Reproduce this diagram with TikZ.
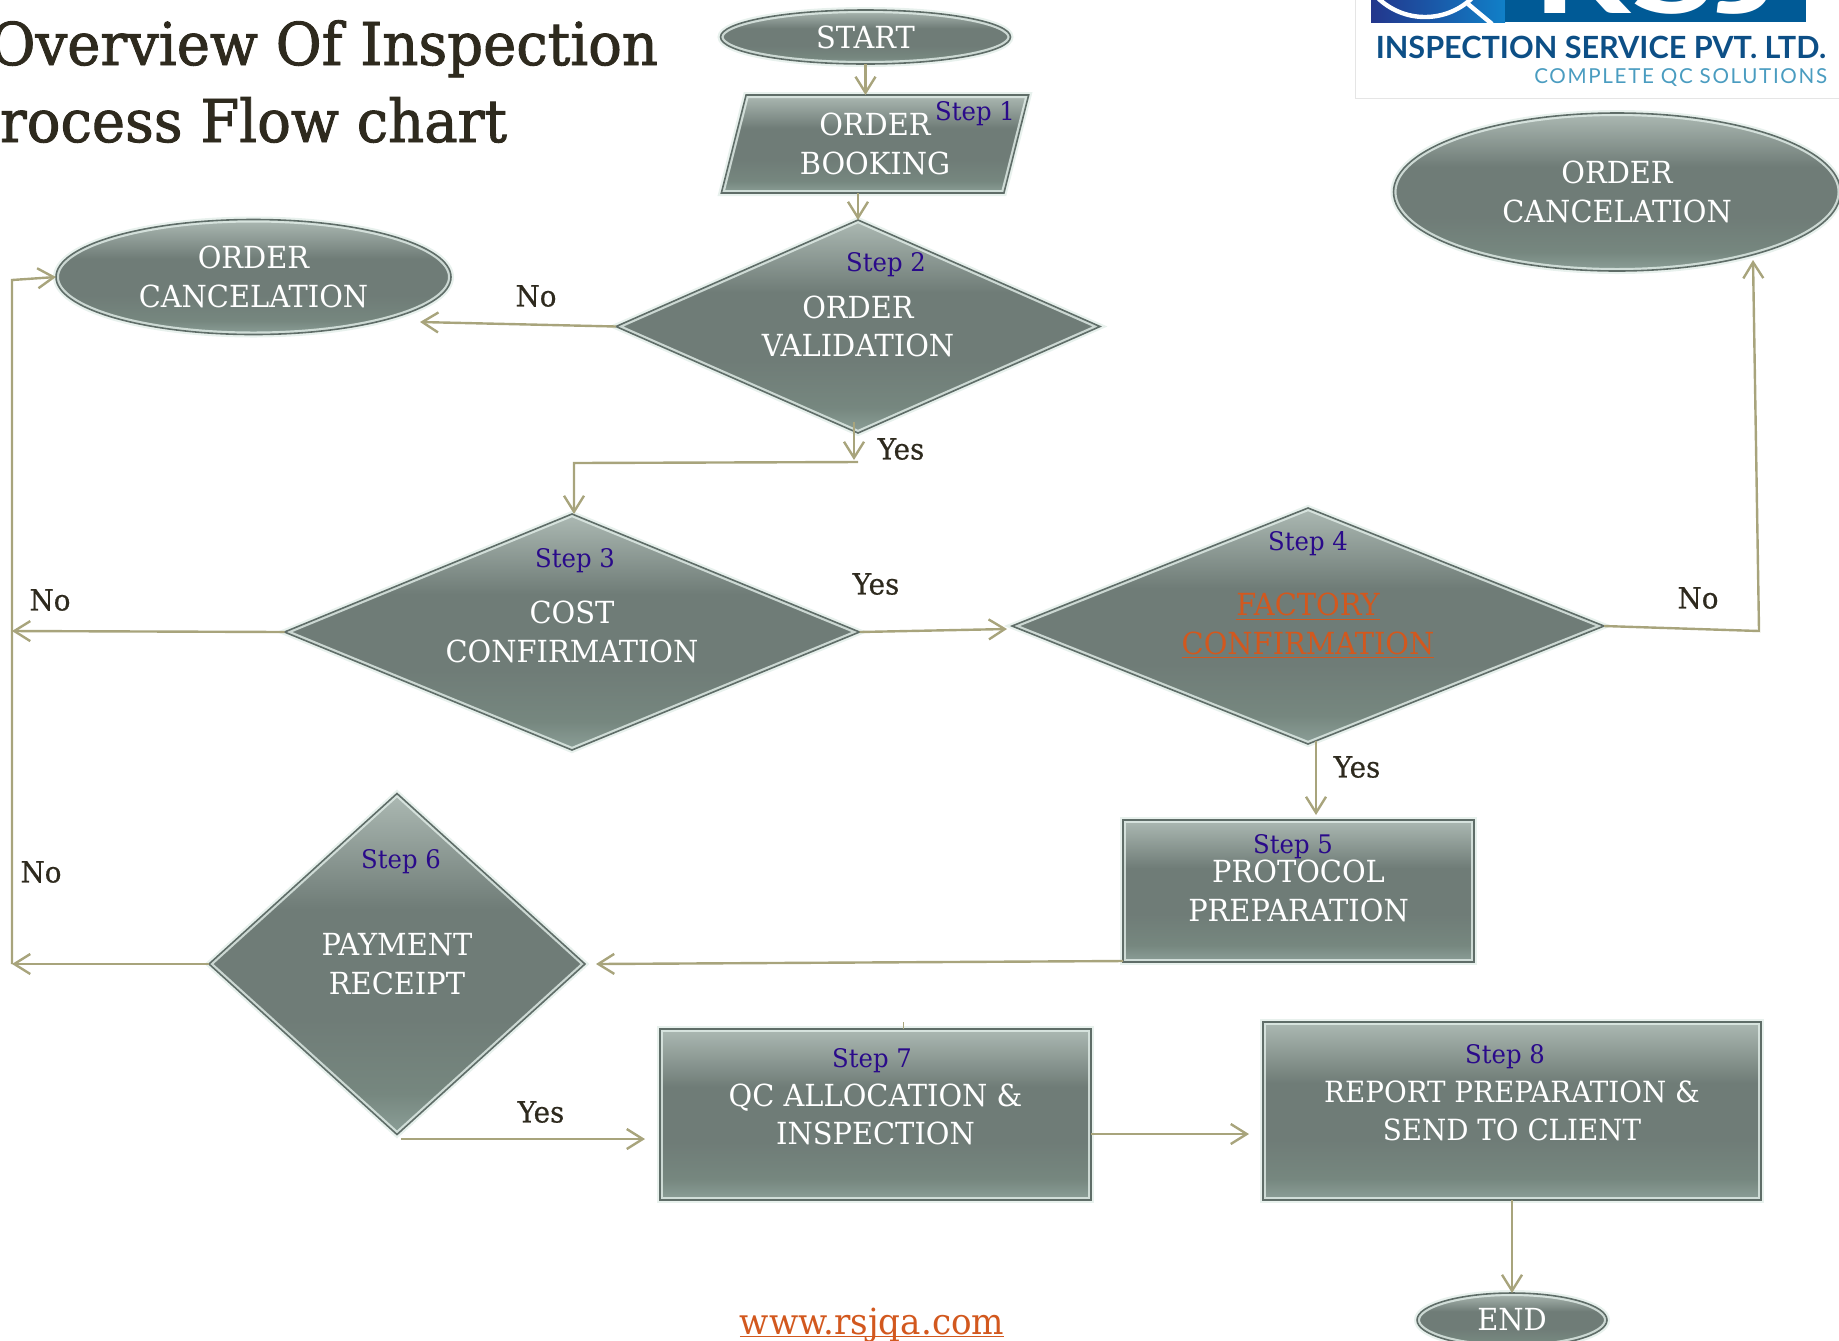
\documentclass[tikz,border=0pt]{standalone}
\usepackage{fontspec}
\usetikzlibrary{shapes.geometric,arrows.meta}
\newfontfamily\slab[FakeStretch=0.95]{DejaVu Serif}
\newfontfamily\slabheavy[FakeStretch=0.95,FakeBold=1.5]{DejaVu Serif}
\newfontfamily\slabmid[FakeStretch=0.95,FakeBold=0.6]{DejaVu Serif}
\newfontfamily\logofont{Lato}
\newfontfamily\rsjfont[FakeStretch=1.4]{Lato}
\setmainfont{DejaVu Serif}
\definecolor{linec}{HTML}{A8A47C}
\definecolor{stepc}{HTML}{2A0A8A}
\definecolor{inkc}{HTML}{2E2A1E}
\definecolor{linkc}{HTML}{D2581E}
\definecolor{edgec}{HTML}{5F6D68}
\definecolor{bevelc}{HTML}{E2EEE9}
\definecolor{logoa}{HTML}{0D4F86}
\definecolor{logob}{HTML}{4A9CC0}
\definecolor{logoc}{HTML}{005A96}
\definecolor{logod}{HTML}{23368C}
\definecolor{logoe}{HTML}{1080C8}
\definecolor{shadea}{HTML}{8C9F98}
\definecolor{shadeb}{HTML}{76877F}
\definecolor{shadec}{HTML}{6F7C77}
\definecolor{shaded}{HTML}{ACB9B3}
\pgfdeclareverticalshading{bevelshade}{100bp}{
  color(0bp)=(shadea);
  color(25bp)=(shadea);
  color(31bp)=(shadeb);
  color(42bp)=(shadec);
  color(58bp)=(shadec);
  color(75bp)=(shaded);
  color(100bp)=(shaded)}
\tikzset{
  x=0.5pt,y=-0.5pt,
  every node/.style={inner sep=0pt,outer sep=0pt},
  dims/.style 2 args={minimum width=#1*0.5pt,minimum height=#2*0.5pt},
  glass/.style={shade,shading=bevelshade,
    postaction={draw=bevelc,line width=3pt,opacity=.8},
    postaction={draw=edgec,line width=.8pt},
    text=white,align=center,font=\slab\fontsize{15.2}{19.3}\selectfont},
  rectbox/.style={glass,rectangle},
  oval/.style={glass,ellipse},
  rhomb/.style={glass,diamond},
  slant/.style={glass,trapezium,trapezium left angle=76.8,trapezium right angle=103.2,trapezium stretches=true},
  flow/.style={draw=linec,line width=1.2pt},
  arr/.style={flow,-{Straight Barb[length=8pt,width=10pt]}},
  steplabel/.style={text=stepc,font=\slab\fontsize{12.8}{15}\selectfont},
  yesno/.style={text=inkc,font=\slabmid\fontsize{14.6}{16}\selectfont},
  titletext/.style={text=inkc,anchor=base east,font=\slabheavy\fontsize{29.5}{36}\selectfont},
}
\begin{document}
\begin{tikzpicture}
\useasboundingbox (0,0) rectangle (1839,1340);
% logo
\draw[draw=black!10,line width=.5pt] (1355,0) -- (1355,98) -- (1839,98);
\fill[left color=logod,right color=logoe] (1371,0) rectangle (1505,22);
\fill[logoc] (1505,0) -- (1806,0) -- (1806,22) -- (1505,22) -- cycle;
\begin{scope}
\clip (1371,0) rectangle (1806,22);
\draw[white,line width=2.2pt] (1425,-51) circle[radius=68];
\draw[white,line width=2.2pt] (1468,4) -- (1492,24);
\node[anchor=base,text=white,font=\rsjfont\bfseries\fontsize{55}{60}\selectfont] (logorsj) at (1657,13) {RSJ};
\end{scope}
\node[anchor=base east,text=logoa,font=\logofont\bfseries\fontsize{15.3}{17}\selectfont] (logotext) at (1826,58) {INSPECTION SERVICE PVT. LTD.};
\node[anchor=base east,text=logob,font=\logofont\fontsize{10.3}{12}\selectfont] (logosub) at (1827,83) {\addfontfeature{LetterSpace=8}COMPLETE QC SOLUTIONS};
% title
\node[titletext] (title1) at (658,65) {Overview Of Inspection};
\node[titletext] (title2) at (507,142) {Process Flow chart};
% shapes
\node[oval,dims={290}{54}] (start) at (865.5,37) {START};
\node[slant,dims={309}{98},align=center] (book) at (875,144) {ORDER\\BOOKING};
\node[rhomb,shape aspect=2.3,dims={484}{213}] (d2) at (858,326.5) {ORDER\\VALIDATION};
\node[oval,dims={395}{115}] (can1) at (253.5,277) {ORDER\\CANCELATION};
\node[oval,dims={447}{158}] (can2) at (1617,192) {ORDER\\CANCELATION};
\node[rhomb,shape aspect=2.4,dims={575}{236}] (d3) at (572,632) {COST\\CONFIRMATION};
\node[rhomb,shape aspect=2.4,dims={592}{236},text=linkc] (d4) at (1308,626) {\underline{FACTORY}\\\underline{CONFIRMATION}};
\node[rectbox,dims={351}{142}] (box5) at (1298.5,891) {PROTOCOL\\PREPARATION};
\node[rhomb,shape aspect=1.1,dims={376}{341}] (d6) at (397,964) {PAYMENT\\RECEIPT};
\node[rectbox,dims={431}{171}] (box7) at (875.5,1114.5) {QC ALLOCATION \&\\INSPECTION};
\node[rectbox,dims={498}{178},font=\slab\fontsize{14.6}{19.3}\selectfont] (box8) at (1512,1111) {REPORT PREPARATION \&\\SEND TO CLIENT};
\node[oval,dims={190}{54}] (endn) at (1512,1320) {END};
% step labels
\node[steplabel] (s1) at (975,114) {Step 1};
\node[steplabel] (s2) at (886,265) {Step 2};
\node[steplabel] (s3) at (575,561) {Step 3};
\node[steplabel] (s4) at (1308,544) {Step 4};
\node[steplabel] (s5) at (1293,847) {Step 5};
\node[steplabel] (s6) at (401,862) {Step 6};
\node[steplabel] (s7) at (872,1061) {Step 7};
\node[steplabel] (s8) at (1505,1057) {Step 8};
% free ends
\coordinate (c1tip) at (420,322);
\coordinate (y2a) at (854,422);
\coordinate (y2b) at (854,460);
\coordinate (y2c) at (858,462);
\coordinate (y2d) at (574,463);
\coordinate (leftmid) at (12,631);
\coordinate (leftlow) at (12,964);
\coordinate (lefttop) at (12,280);
\coordinate (d4tip) at (1007,629);
\coordinate (d4k) at (1759,631);
\coordinate (can2tip) at (1753,260);
\coordinate (d4s) at (1316,741);
\coordinate (d4y) at (1316,815);
\coordinate (b5a) at (1123,961);
\coordinate (d6tip) at (596,964);
\coordinate (d6y) at (401,1139);
\coordinate (b7tip) at (645,1139);
\coordinate (b7o) at (1091,1134);
\coordinate (b8tip) at (1249,1134);
\coordinate (tick) at (903,1022);
% connectors
\draw[arr] (start.south) -- (start.south |- book.north);
\draw[arr] (d2.north |- book.south) -- (d2.north);
\draw[arr] (d2.west) -- (c1tip);
\draw[arr] (y2a) -- (y2b);
\draw[arr] (y2c) -- (y2d) -- (y2d |- d3.north);
\draw[arr] (d3.west) -- (leftmid);
\draw[arr] (leftlow) -- (lefttop) -- (can1.west);
\draw[arr] (d3.east) -- (d4tip);
\draw[arr] (d4.east) -- (d4k) -- (can2tip);
\draw[arr] (d4s) -- (d4y);
\draw[arr] (b5a) -- (d6tip);
\draw[arr] (d6.west) -- (leftlow);
\draw[arr] (d6y) -- (b7tip);
\draw[arr] (b7o) -- (b8tip);
\draw[arr] (box8.south) -- (box8.south |- endn.north);
\draw[draw=linec,line width=.5pt] (tick) -- (tick |- box7.north);
% yes/no labels
\node[yesno] (no1) at (536,296) {No};
\node[yesno] (yes1) at (901,449) {Yes};
\node[yesno] (no2) at (50,600) {No};
\node[yesno] (yes2) at (876,584) {Yes};
\node[yesno] (no3) at (1698,598) {No};
\node[yesno] (yes3) at (1357,767) {Yes};
\node[yesno] (no4) at (41,872) {No};
\node[yesno] (yes4) at (541,1112) {Yes};
% url
\node[anchor=base,text=linkc,font=\slab\fontsize{18}{19}\selectfont] (url) at (872,1334) {\underline{\smash{www.rsjqa.com}}};
\end{tikzpicture}
\end{document}
